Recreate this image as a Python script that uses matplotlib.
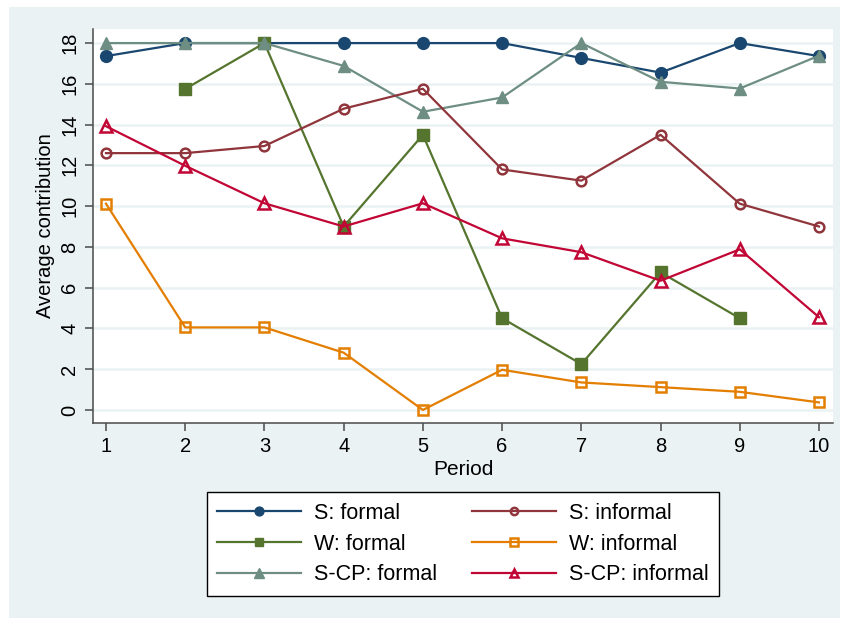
import numpy as np
import matplotlib
matplotlib.use("Agg")
import matplotlib.pyplot as plt
from matplotlib.patches import Rectangle

plt.rcParams['font.family'] = ['Liberation Sans', 'DejaVu Sans']

periods = np.arange(1, 11)

s_formal = [17.36, 18.0, 18.0, 18.0, 18.0, 18.0, 17.27, 16.55, 18.0, 17.36]
s_informal = [12.6, 12.6, 12.95, 14.78, 15.76, 11.8, 11.25, 13.5, 10.12, 9.0]
w_formal = [np.nan, 15.75, 18.0, 9.0, 13.5, 4.5, 2.25, 6.75, 4.5, np.nan]
w_informal = [10.12, 4.05, 4.05, 2.81, 0.0, 1.97, 1.35, 1.12, 0.89, 0.37]
scp_formal = [18.0, 18.0, 18.0, 16.88, 14.63, 15.33, 18.0, 16.1, 15.77, 17.38]
scp_informal = [13.92, 11.98, 10.14, 9.0, 10.14, 8.42, 7.74, 6.34, 7.88, 4.55]

labels = ["S: formal", "S: informal", "W: formal", "W: informal",
          "S-CP: formal", "S-CP: informal"]
yticks = list(range(0, 20, 2))

BG = '#EAF2F3'
AX = '#4a4a4a'

fig = plt.figure(figsize=(8.44, 6.19), dpi=100)
fig.patch.set_facecolor('white')
fig.patches.append(Rectangle((9 / 844, 1 - 618 / 619), 831 / 844, 611 / 619,
                             transform=fig.transFigure, facecolor=BG,
                             edgecolor='none', zorder=-10))

ax = fig.add_axes([93 / 844, 1 - 423 / 619, 740 / 844, 394 / 619])
ax.set_facecolor('white')

ax.set_xlim(0.836, 10.177)
ax.set_ylim(-0.64, 18.69)

for y in yticks:
    ax.axhline(y, color=BG, lw=1.8, zorder=0)

lw = 1.6
ms = 8.5
ax.plot(periods, s_formal, color='#1a476f', lw=lw, marker='o', ms=ms,
        mfc='#1a476f', mec='#1a476f', label=labels[0], zorder=3)
ax.plot(periods, w_formal, color='#55752f', lw=lw, marker='s', ms=ms - 0.5,
        mfc='#55752f', mec='#55752f', label=labels[2], zorder=3)
ax.plot(periods, scp_formal, color='#6e8e84', lw=lw, marker='^', ms=ms + 0.5,
        mfc='#6e8e84', mec='#6e8e84', label=labels[4], zorder=3)
ax.plot(periods, s_informal, color='#90353b', lw=lw, marker='o', ms=ms - 1.5,
        mfc='none', mec='#90353b', mew=1.8, label=labels[1], zorder=3)
ax.plot(periods, w_informal, color='#e37e00', lw=lw, marker='s', ms=ms - 1.5,
        mfc='none', mec='#e37e00', mew=1.8, label=labels[3], zorder=3)
ax.plot(periods, scp_informal, color='#c10534', lw=lw, marker='^', ms=ms - 0.5,
        mfc='none', mec='#c10534', mew=1.8, label=labels[5], zorder=3)

for side in ('top', 'right'):
    ax.spines[side].set_visible(False)
for side in ('left', 'bottom'):
    ax.spines[side].set_color(AX)
    ax.spines[side].set_linewidth(1.1)

ax.set_xticks(periods)
ax.set_yticks(yticks)
ax.tick_params(axis='both', colors=AX, length=6, width=1.1, labelsize=14.5,
               labelcolor='black', pad=4)
for t in ax.get_yticklabels():
    t.set_rotation(90)
    t.set_va('center')

ax.set_xlabel("Period", fontsize=15, labelpad=3)
ax.set_ylabel("Average contribution", fontsize=14.5, labelpad=4)

handles, labs = ax.get_legend_handles_labels()
leg = fig.legend(handles, labs,
                 loc='center', bbox_to_anchor=(463 / 844, 1 - 544 / 619),
                 ncol=2, fontsize=15.5, frameon=True, fancybox=False,
                 edgecolor='black', facecolor='white', framealpha=1,
                 handlelength=3.9, handletextpad=0.6, columnspacing=1.6,
                 labelspacing=0.45, borderpad=0.5, markerscale=0.75)
leg.get_frame().set_linewidth(1.0)

fig.savefig("out.png", dpi=100)
